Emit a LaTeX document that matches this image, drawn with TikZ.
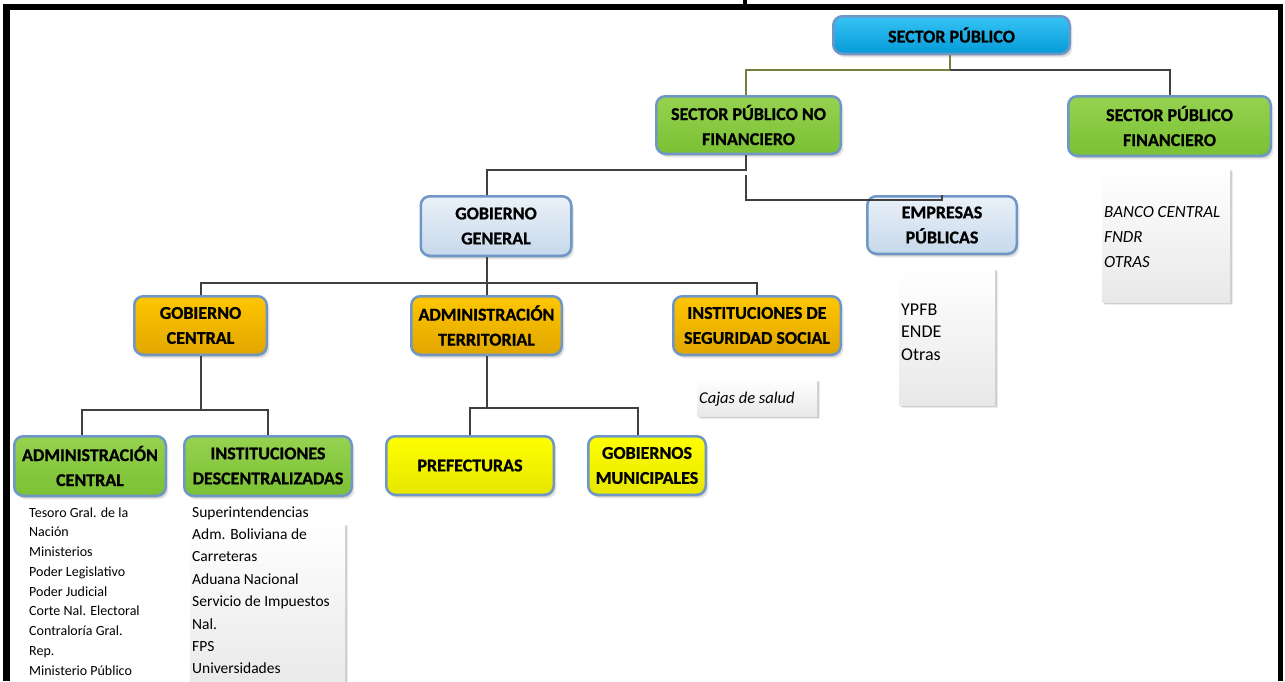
\documentclass[tikz,border=0pt]{standalone}
\usepackage{fontspec}
\setmainfont{Carlito}[BoldFont={Carlito Bold}, BoldFeatures={FakeBold=0.9}, ItalicFont={Carlito Italic}, BoldItalicFont={Carlito Bold Italic}]
\usetikzlibrary{shadows,calc}

\definecolor{edge}{RGB}{110,151,200}
\definecolor{linegray}{RGB}{64,64,64}
\definecolor{olivelink}{RGB}{118,128,60}
\definecolor{blueT}{RGB}{55,195,245}
\definecolor{blueB}{RGB}{5,155,215}
\definecolor{greenT}{RGB}{150,210,80}
\definecolor{greenB}{RGB}{122,192,52}
\definecolor{paleT}{RGB}{234,241,248}
\definecolor{paleB}{RGB}{198,216,235}
\definecolor{orangeT}{RGB}{255,198,0}
\definecolor{orangeB}{RGB}{224,166,0}
\definecolor{yellowT}{RGB}{255,255,0}
\definecolor{yellowB}{RGB}{230,230,0}

\tikzset{
  orgbox/.style={draw=edge, line width=2.5pt, rounded corners=9pt, align=center,
    inner sep=0pt, font=\bfseries\fontsize{18}{25}\selectfont, text=black,
    drop shadow={shadow xshift=1pt, shadow yshift=-2pt, opacity=.12, fill=black},
    drop shadow={shadow xshift=2.5pt, shadow yshift=-3.5pt, opacity=.1, fill=black}},
  bluebox/.style={orgbox, top color=blueT, bottom color=blueB},
  greenbox/.style={orgbox, top color=greenT, bottom color=greenB},
  palebox/.style={orgbox, top color=paleT, bottom color=paleB},
  orangebox/.style={orgbox, top color=orangeT, bottom color=orangeB},
  yellowbox/.style={orgbox, top color=yellowT, bottom color=yellowB},
  listbox/.style={anchor=north west, inner sep=0pt, top color=white, bottom color=black!9,
    drop shadow={shadow xshift=1.5pt, shadow yshift=-1.5pt, opacity=.12, fill=black},
    drop shadow={shadow xshift=3pt, shadow yshift=-3pt, opacity=.08, fill=black}},
  conn/.style={draw=linegray, line width=2pt},
  item/.style={anchor=base west, inner sep=0pt, text=black},
}

\begin{document}
\begin{tikzpicture}[x=1pt,y=-1pt]
\useasboundingbox (0,0) rectangle (1285,681);

% page frame
\fill[black] (3,4) rectangle (1283,10);
\fill[black] (3,4) rectangle (10,681);
\fill[black] (1278,4) rectangle (1283,681);
\fill[black] (743,0) rectangle (746.5,4);

% shaded panels behind the lists
\node[listbox, minimum width=120pt, minimum height=37pt] (cajasbg) at (697,379) {};
\node[listbox, minimum width=96pt, minimum height=137pt] (epbg) at (899,268) {};
\node[listbox, minimum width=128pt, minimum height=134pt] (spfbg) at (1102,168) {};
\node[listbox, minimum width=155pt, minimum height=170pt] (idbg) at (190,523) {};

% boxes
\node[bluebox, minimum width=236.5pt, minimum height=37.5pt] (sp) at (951.5,35) {SECTOR PÚBLICO};
\node[greenbox, minimum width=184.5pt, minimum height=57.5pt] (spnf) at (748.5,125) {SECTOR PÚBLICO NO\\FINANCIERO};
\node[greenbox, minimum width=202.5pt, minimum height=59.5pt] (spf) at (1169.5,126) {SECTOR PÚBLICO\\FINANCIERO};
\node[palebox, minimum width=150.5pt, minimum height=59.5pt] (gg) at (496,226) {GOBIERNO\\GENERAL};
\node[palebox, minimum width=149.5pt, minimum height=57.5pt] (ep) at (942,225) {EMPRESAS\\PÚBLICAS};
\node[orangebox, minimum width=132.5pt, minimum height=58.5pt] (gc) at (200.5,325.5) {GOBIERNO\\CENTRAL};
\node[orangebox, minimum width=150.5pt, minimum height=58.5pt] (at) at (486.5,325.5) {ADMINISTRACIÓN\\TERRITORIAL};
\node[orangebox, minimum width=167.5pt, minimum height=58.5pt] (iss) at (757,325.5) {INSTITUCIONES DE\\SEGURIDAD SOCIAL};
\node[greenbox, minimum width=151.5pt, minimum height=59.5pt] (ac) at (90,466) {ADMINISTRACIÓN\\CENTRAL};
\node[greenbox, minimum width=167.5pt, minimum height=59.5pt] (id) at (268,466) {INSTITUCIONES\\DESCENTRALIZADAS};
\node[yellowbox, minimum width=167.5pt, minimum height=58.5pt] (pref) at (470,465.5) {PREFECTURAS};
\node[yellowbox, minimum width=117.5pt, minimum height=58.5pt] (gm) at (647,465.5) {GOBIERNOS\\MUNICIPALES};

% junction levels and offset attachment points
\coordinate (lvA) at (0,70);
\coordinate (lvB) at (0,170);
\coordinate (lvC) at (0,175);
\coordinate (lvD) at (0,283);
\coordinate (lvE) at (0,410);
\coordinate (lvF) at (0,408);
\coordinate (spdrop) at (950,55);
\coordinate (ggtop) at ($(gg.north)+(-9,0)$);
\coordinate (ggbot) at ($(gg.south)+(-9,0)$);
\coordinate (actop) at ($(ac.north)+(-8,0)$);
\coordinate (gmtop) at ($(gm.north)+(-9,0)$);
\coordinate (epbend) at ($(ep.north)+(0,5)$);
\coordinate (spnfbot) at ($(spnf.south)+(-3,0)$);

% connectors
\draw[conn, draw=olivelink] (spdrop) -- (spdrop |- lvA) -| ($(spnf.north)+(-3,0)$);
\draw[conn] (spdrop |- lvA) -| (spf.north);
\draw[conn] (spnfbot) -- (spnfbot |- lvB) -| (ggtop);
\draw[conn] (spnfbot |- lvC) |- (epbend) -- (ep.north);
\draw[conn] (ggbot) -- (ggbot |- lvD) -| (gc.north);
\draw[conn] (ggbot |- lvD) -| (iss.north);
\draw[conn] (ggbot |- lvD) -| (at.north);
\draw[conn] (gc.south) -- (gc.south |- lvE) -| (actop);
\draw[conn] (gc.south |- lvE) -| (id.north);
\draw[conn] (at.south) -- (at.south |- lvF) -| (pref.north);
\draw[conn] (at.south |- lvF) -| (gmtop);

% lists
\node[item, font=\itshape\fontsize{16.5}{20}\selectfont] (cajas) at (699,403) {Cajas de salud};

\node[item, font=\fontsize{18}{22}\selectfont] (ep1) at (901,315) {YPFB};
\node[item, font=\fontsize{18}{22}\selectfont] (ep2) at (901,337.5) {ENDE};
\node[item, font=\fontsize{18}{22}\selectfont] (ep3) at (901,360) {Otras};

\node[item, font=\itshape\fontsize{17}{20}\selectfont] (spf1) at (1104,217) {BANCO CENTRAL};
\node[item, font=\itshape\fontsize{17}{20}\selectfont] (spf2) at (1104,242) {FNDR};
\node[item, font=\itshape\fontsize{17}{20}\selectfont] (spf3) at (1104,267) {OTRAS};

\foreach [count=\i from 0] \t in {Tesoro Gral. de la, Nación, Ministerios, Poder Legislativo,
  Poder Judicial, Corte Nal. Electoral, Contraloría Gral., Rep., Ministerio Público}
  \node[item, font=\fontsize{14}{16}\selectfont] (ac\i) at (29,517+19.75*\i) {\t};

\foreach [count=\i from 0] \t in {Superintendencias, Adm. Boliviana de, Carreteras, Aduana Nacional,
  Servicio de Impuestos, Nal., FPS, Universidades}
  \node[item, font=\fontsize{15.5}{18}\selectfont] (id\i) at (192,517+22.4*\i) {\t};
\end{tikzpicture}
\end{document}
